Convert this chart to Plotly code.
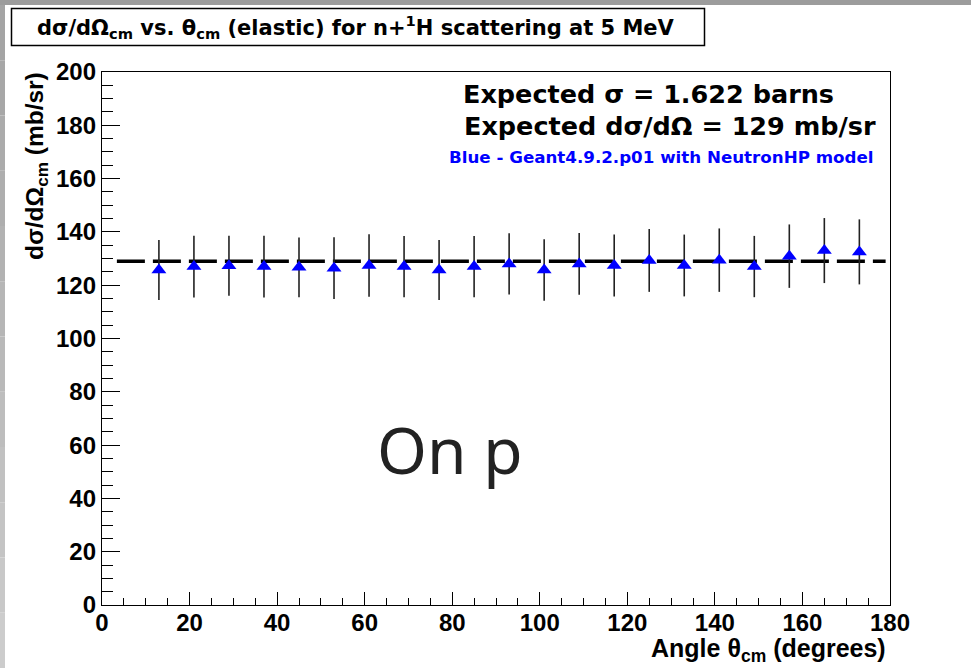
import plotly.graph_objects as go

# ---- data ----
angle_deg = [13, 21, 29, 37, 45, 53, 61, 69, 77, 85, 93, 101, 109, 117, 125,
             133, 141, 149, 157, 165, 173]
dsigma = [125.7, 127.0, 127.3, 127.0, 126.7, 126.4, 127.4, 127.0, 125.7, 127.0,
          128.0, 125.7, 128.0, 127.4, 129.3, 127.4, 129.4, 127.0, 130.9, 133.0, 132.5]
dsigma_err = [11.3, 11.6, 11.3, 11.6, 11.2, 11.6, 11.7, 11.5, 11.3, 11.5, 11.5,
              11.5, 11.6, 11.6, 11.8, 11.6, 11.9, 11.5, 11.9, 12.2, 12.2]
expected_value = 129
expected_range = [3.4, 179.0]
x_ticks = list(range(0, 181, 20))
y_ticks = list(range(0, 201, 20))

W, H = 971, 668
L, R, T, B = 102, 890, 72, 605


def px(x):
    return (x - L) / (R - L)


def py(y):
    return (B - y) / (B - T)


fig = go.Figure()

fig.add_trace(go.Scatter(
    x=expected_range, y=[expected_value] * len(expected_range),
    mode="lines", line=dict(color="black", width=3.6, dash="28px,8px"),
    hoverinfo="skip", showlegend=False))

fig.add_trace(go.Scatter(
    x=angle_deg, y=dsigma, mode="markers",
    marker=dict(symbol="triangle-up", size=13, color="#0000ff", line=dict(width=0)),
    error_y=dict(type="data", array=dsigma_err, visible=True, color="#222222",
                 thickness=1.6, width=0),
    showlegend=False))

BOLD = "Liberation Sans"
WIDE = "DejaVu Sans"

shapes = []
# canvas grey border (top and left)
shapes.append(dict(type="rect", xref="paper", yref="paper", x0=px(0), x1=px(W),
                   y0=py(0), y1=py(5), fillcolor="#9c9c9c", line=dict(width=0),
                   layer="below"))
nseg = 12
for i in range(nseg):
    y0p = 5 + (H - 5) * i / nseg
    y1p = 5 + (H - 5) * (i + 1) / nseg
    g = int(0xa4 + (0xcc - 0xa4) * i / (nseg - 1))
    shapes.append(dict(type="rect", xref="paper", yref="paper", x0=px(0), x1=px(5),
                       y0=py(y0p), y1=py(y1p), fillcolor=f"rgb({g},{g},{g})",
                       line=dict(width=0), layer="below"))
# title box
shapes.append(dict(type="rect", xref="paper", yref="paper", x0=px(11.5), x1=px(704.5),
                   y0=py(8.5), y1=py(45.5), fillcolor="white",
                   line=dict(color="black", width=1.5)))

annotations = [
    dict(text="<b>dσ/dΩ<sub>cm</sub> vs. θ<sub>cm</sub> (elastic) for n+<sup>1</sup>H scattering at 5 MeV</b>",
         x=px(356), y=py(27), xanchor="center", yanchor="middle",
         font=dict(family=WIDE, size=21, color="black")),
    dict(text="<b>Expected σ = 1.622 barns</b>", x=px(648), y=py(94.5),
         xanchor="center", yanchor="middle",
         font=dict(family=WIDE, size=25.5, color="black")),
    dict(text="<b>Expected dσ/dΩ = 129 mb/sr</b>", x=px(670), y=py(126),
         xanchor="center", yanchor="middle",
         font=dict(family=WIDE, size=25.5, color="black")),
    dict(text="<b>Blue - Geant4.9.2.p01 with NeutronHP model</b>", x=px(661), y=py(156.7),
         xanchor="center", yanchor="middle",
         font=dict(family=WIDE, size=16.7, color="#0000ff")),
    dict(text="On p", x=px(450), y=py(449), xanchor="center", yanchor="middle",
         font=dict(family="Noto Sans", size=64, color="#222222")),
    dict(text="<b>Angle θ<sub>cm</sub> (degrees)</b>", x=px(888), y=py(650),
         xanchor="right", yanchor="middle",
         font=dict(family=BOLD, size=25, color="black")),
    dict(text="<b>dσ/dΩ<sub>cm</sub> (mb/sr)</b>", x=px(36), y=py(166), textangle=-90,
         xanchor="center", yanchor="middle",
         font=dict(family=BOLD, size=24.5, color="black")),
]
for a in annotations:
    a.update(xref="paper", yref="paper", showarrow=False)

axis_common = dict(showline=True, linecolor="black", linewidth=1.3, mirror=True,
                   showgrid=False, zeroline=False, ticks="inside", tickcolor="black",
                   tickwidth=1.3, fixedrange=True,
                   tickfont=dict(family=BOLD, size=24, color="black", weight="bold"))

fig.update_layout(
    width=W, height=H, autosize=False,
    margin=dict(l=L, r=W - R, t=T, b=H - B, pad=0),
    paper_bgcolor="white", plot_bgcolor="white",
    shapes=shapes, annotations=annotations, showlegend=False,
    xaxis=dict(range=[0, 180], tickvals=x_ticks, ticklen=13, ticklabelstandoff=-4,
               minor=dict(ticks="inside", ticklen=7, dtick=5, tickcolor="black",
                          tickwidth=1.3),
               **axis_common),
    yaxis=dict(range=[0, 200], tickvals=y_ticks, ticklen=18,
               minor=dict(ticks="inside", ticklen=11, dtick=5, tickcolor="black",
                          tickwidth=1.3),
               **axis_common),
)

fig.write_html("out.html")
